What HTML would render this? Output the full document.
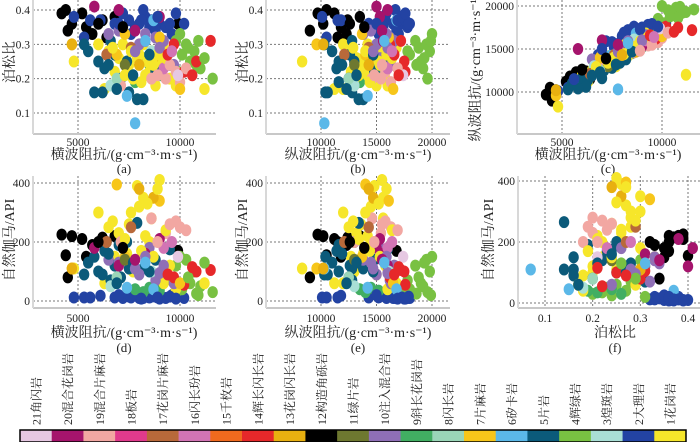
<!DOCTYPE html>
<html><head><meta charset="utf-8">
<style>
html,body{margin:0;padding:0;background:#fff;width:700px;height:442px;overflow:hidden}
svg{display:block}
text{font-family:"Liberation Serif","Noto Serif CJK SC",serif;fill:#222}
</style></head>
<body>
<svg id="chart" width="700" height="442" viewBox="0 0 700 442" xmlns="http://www.w3.org/2000/svg"></svg>
<script>
// ---- data: each sample [Vs, Vp, Poisson, GR] and rock class index ----
const vs = [4200,4400,4500,4700,5200,5700,6200,6400,6800,5400,9900,
7500,8000,8500,9000,8300,8800,9300,7800,6800,4800,5300,6100,7200,9600,8600,7600,10200,8200,
9800,10300,10700,10500,10100,11000,11600,9600,10000,9900,10800,8500,9000,7800,8200,
6300,11200,6000,6500,7000,7500,8000,8500,9000,9500,8800,7200,6800,8200,9200,4800,7700,9800,7900,8600,7400,8300,
5500,6000,6300,6800,7100,7500,6200,5800,8200,7900,8800,6600,7400,9500,5300,7000,
7000,8000,8500,9200,9700,6500,8800,
9800,9300,8600,10000,7100,
10200,10800,11500,9700,
5800,7000,8300,9000,
4700,7300,10000,9000,6900,
7800,8700,7400,6600,8600,6400,7600,7300,9200,6900,8700,4700,9900,
7600,8400,8900,7300,8100,9300,6700,8700,
8100,8900,9500,7000,5600,9800,
6500,7700,8500,6900,
7800,9000,8300,
9500,8900,10300,
10400,11200,10900,
7800,9400,10600,6000,7200,8000,9600,8300];
const vp = [9700,10500,9000,10200,11200,12300,12400,11500,13500,11800,16800,
15800,16500,16900,17500,17200,16800,17800,15600,14300,10100,10500,11800,15900,17000,17600,15200,18000,16700,
18500,19500,19800,19000,18000,19200,19600,17800,20000,17300,18600,14500,15200,13500,14000,
11200,12000,12000,12500,13200,13600,14500,14800,15500,15800,15000,14200,12700,15600,16800,8300,13000,16000,14800,15600,13800,14200,
11000,11600,11400,12600,12500,12800,10600,10400,13800,13400,14800,12800,13000,16000,10300,11600,
14500,15000,15300,16600,16300,13800,16200,
15800,15400,14600,16300,13000,
17600,17500,17200,16200,
15000,16000,15600,15300,
9600,13700,16500,16100,14000,
10300,16800,14200,13000,16100,12100,14300,13000,16000,12500,14700,10200,17400,
14000,15200,15900,13400,14400,16400,12900,15300,
16900,17300,17900,15000,11500,17600,
11900,13200,14700,12300,
14700,16000,15900,
15500,14800,16900,
18800,19300,19900,
15500,16600,17000,12600,13900,14300,16400,15700];
const pr = [0.39,0.40,0.34,0.36,0.39,0.33,0.37,0.32,0.38,0.35,0.36,
0.37,0.36,0.35,0.36,0.38,0.34,0.35,0.35,0.36,0.38,0.32,0.37,0.39,0.33,0.37,0.33,0.36,0.40,
0.31,0.30,0.28,0.25,0.27,0.23,0.20,0.28,0.33,0.22,0.24,0.24,0.21,0.19,0.26,
0.17,0.17,0.30,0.28,0.26,0.24,0.27,0.22,0.25,0.20,0.18,0.30,0.22,0.30,0.29,0.25,0.20,0.18,0.26,0.28,0.23,0.21,
0.28,0.25,0.23,0.27,0.20,0.16,0.16,0.16,0.14,0.14,0.22,0.31,0.25,0.24,0.30,0.19,
0.34,0.30,0.26,0.31,0.24,0.33,0.32,
0.22,0.20,0.20,0.19,0.18,
0.22,0.25,0.31,0.30,
0.41,0.40,0.31,0.38,
0.30,0.33,0.17,0.32,0.27,
0.07,0.37,0.15,0.18,0.28,0.27,0.29,0.24,0.23,0.20,0.26,0.30,0.21,
0.28,0.25,0.27,0.21,0.19,0.26,0.29,0.24,
0.37,0.38,0.36,0.36,0.37,0.39,
0.24,0.21,0.27,0.17,
0.28,0.29,0.33,
0.24,0.21,0.23,
0.29,0.26,0.31,
0.34,0.27,0.21,0.36,0.35,0.24,0.28,0.31];
const gr = [225,155,80,220,210,190,215,200,220,150,170,
15,10,12,8,20,15,10,25,12,12,12,18,10,20,15,12,10,10,
120,140,100,60,40,50,30,70,150,35,25,45,35,40,30,
60,60,300,250,230,260,320,200,410,120,90,180,150,350,60,110,100,40,390,280,160,220,
130,100,170,120,80,110,90,150,110,265,140,70,200,175,90,190,
130,90,180,120,60,140,70,
270,230,280,250,200,
55,100,105,80,
180,120,160,210,
110,150,60,340,395,
110,40,45,50,100,200,250,140,180,80,350,110,150,
300,330,380,210,170,240,270,150,
8,12,15,20,12,8,
160,130,100,60,
110,95,150,
260,200,240,
80,130,20,
140,90,115,200,180,380,200,130];
const rock = [12,12,12,12,12,12,12,12,12,12,12,
2,2,2,2,2,2,2,2,2,2,2,2,2,2,2,2,2,2,
4,4,4,4,4,4,4,4,4,4,4,9,9,9,9,
1,1,1,1,1,1,1,1,1,1,1,1,1,1,1,1,1,1,1,1,1,1,
5,5,5,5,5,5,5,5,5,5,5,5,5,5,5,5,
10,10,10,10,10,10,10,
19,19,19,19,19,
14,14,14,14,
20,20,20,20,
7,7,7,7,7,
6,6,6,3,3,17,17,11,16,8,13,13,21,
1,1,1,1,1,1,1,1,
2,2,2,2,2,2,
5,5,5,5,
10,10,10,
19,19,19,
4,4,4,
20,14,14,12,12,13,16,6];
const rockNames = ["花岗岩","大理岩","煌斑岩","辉绿岩","片岩","矽卡岩","片麻岩","闪长岩","斜长花岗岩","注入混合岩","绿片岩","构造角砾岩","花岗闪长岩","辉长闪长岩","千枚岩","闪长玢岩","花岗片麻岩","板岩","混合片麻岩","混合花岗岩","角闪岩"];
const rockColors = ["#f6e62a","#2343a3","#a9dfd6","#79c142","#0b5a7a","#5bb8e8","#f7c61a","#9ad6b8","#41ae62","#8f6fb6","#6e7830","#000000","#e8b010","#e6282a","#f06a1e","#d274b4","#b8693a","#e03a8c","#f2a7a2","#a5146c","#e6c8e2"];
const vsTicks = [5000,10000];
const vpTicks = [10000,15000,20000];
const prTicks = [0.1,0.2,0.3,0.4];
const vpYTicks = [10000,15000,20000];
const grTicks = [0,200,400];

const NS="http://www.w3.org/2000/svg";
const svg=document.getElementById('chart');
function mk(tag,attrs,parent){const e=document.createElementNS(NS,tag);for(const k in attrs)e.setAttribute(k,attrs[k]);(parent||svg).appendChild(e);return e;}
function lin(d0,d1,r0,r1){return v=>r0+(v-d0)*(r1-r0)/(d1-d0);}

const panels=[
 {id:'a',x:vs,y:pr,sx:lin(5000,10000,78,180),sy:lin(0.4,0.1,10,113),L:33,R:216,T:0,B:134,xt:vsTicks,yt:[0.1,0.2,0.3,0.4],yf:v=>v.toFixed(1),xl:'横波阻抗/(g·cm⁻³·m·s⁻¹)',yl:'泊松比',cx:124,tb:146,lb:159,cb:173,ylx:9,yly:62},
 {id:'b',x:vp,y:pr,sx:lin(10000,15000,321,376.5),sy:lin(0.4,0.1,10,113),L:266,R:450,T:0,B:134,xt:vpTicks,yt:[0.1,0.2,0.3,0.4],yf:v=>v.toFixed(1),xl:'纵波阻抗/(g·cm⁻³·m·s⁻¹)',yl:'泊松比',cx:358,tb:146,lb:159,cb:173,ylx:242,yly:62},
 {id:'c',x:vs,y:vp,sx:lin(5000,10000,562,662),sy:lin(20000,10000,6,92),L:517,R:700,T:0,B:134,xt:vsTicks,yt:vpYTicks,yf:v=>String(v),xl:'横波阻抗/(g·cm⁻³·m·s⁻¹)',yl:'纵波阻抗/(g·cm⁻³·m·s⁻¹)',cx:608,tb:146,lb:159,cb:173,ylx:475,yly:68},
 {id:'d',x:vs,y:gr,sx:lin(5000,10000,78,180),sy:lin(0,400,301,183),L:33,R:216,T:176,B:308,xt:vsTicks,yt:grTicks,yf:v=>String(v),xl:'横波阻抗/(g·cm⁻³·m·s⁻¹)',yl:'自然伽马/API',cx:124,tb:322,lb:337,cb:352,ylx:9,yly:240},
 {id:'e',x:vp,y:gr,sx:lin(10000,15000,321,376.5),sy:lin(0,400,301,183),L:266,R:450,T:176,B:308,xt:vpTicks,yt:grTicks,yf:v=>String(v),xl:'纵波阻抗/(g·cm⁻³·m·s⁻¹)',yl:'自然伽马/API',cx:358,tb:322,lb:337,cb:352,ylx:242,yly:240},
 {id:'f',x:pr,y:gr,sx:lin(0.1,0.4,545,688),sy:lin(0,400,303,181),L:518,R:700,T:176,B:308,xt:prTicks,yt:grTicks,yf:v=>String(v),xl:'泊松比',yl:'自然伽马/API',cx:615,tb:322,lb:337,cb:352,ylx:488,yly:240,xf:v=>v.toFixed(1)}
];

panels.forEach(p=>{
  const g=mk('g',{});
  
  
  p.xt.forEach(t=>{const x=p.sx(t);
    const l=mk('line',{x1:x,x2:x,y1:p.T,y2:p.B,stroke:'#777','stroke-width':1,'stroke-dasharray':'2,2'},g);
    
    const tx=mk('text',{x:x,y:p.tb,'text-anchor':'middle','font-size':11.5},g);tx.textContent=p.xf?p.xf(t):String(t);
    
  });
  p.yt.forEach(t=>{const y=p.sy(t);
    const l=mk('line',{x1:p.L,x2:p.R,y1:y,y2:y,stroke:'#777','stroke-width':1,'stroke-dasharray':'2,2'},g);
    
    const tx=mk('text',{x:p.L-3,y:y+4,'text-anchor':'end','font-size':11.5},g);tx.textContent=p.yf(t);
    
  });
  const ax=mk('line',{x1:p.L,x2:p.R,y1:p.B,y2:p.B,stroke:'#c8c8c8','stroke-width':2},g);
  
  const ay=mk('line',{x1:p.L,x2:p.L,y1:p.T,y2:p.B,stroke:'#d8d8d8','stroke-width':2},g);
  
  for(let i=0;i<rock.length;i++){
    const c=mk('ellipse',{cx:p.sx(p.x[i]),cy:p.sy(p.y[i]),rx:5.2,ry:6,fill:rockColors[rock[i]-1]},g);
    
    
  }
  const xl=mk('text',{x:p.cx,y:p.lb,'text-anchor':'middle','font-size':14},g);xl.textContent=p.xl;
  
  const yl=mk('text',{x:0,y:0,'text-anchor':'middle','font-size':14,transform:`translate(${p.ylx+5},${p.yly}) rotate(-90)`},g);yl.textContent=p.yl;
  
  const cp=mk('text',{x:p.cx,y:p.cb,'text-anchor':'middle','font-size':13},g);cp.textContent='('+p.id+')';
  
});

const lg=mk('g',{});


const x0=20,x1=686,w=(x1-x0)/21;
for(let k=0;k<21;k++){
  const idx=21-k; const x=x0+k*w;
  const r=mk('rect',{x:x,y:430,width:w+0.5,height:12,fill:rockColors[idx-1]},lg);
  
  const t=mk('text',{x:0,y:0,'font-size':12,transform:`translate(${x+w/2+4.5},425) rotate(-90)`},lg);
  t.textContent=idx+rockNames[idx-1];
  
}
const b1=mk('rect',{x:x0,y:430,width:x1-x0,height:12,fill:'none',stroke:'#000','stroke-width':1.5},lg);

</script>
</body></html>
